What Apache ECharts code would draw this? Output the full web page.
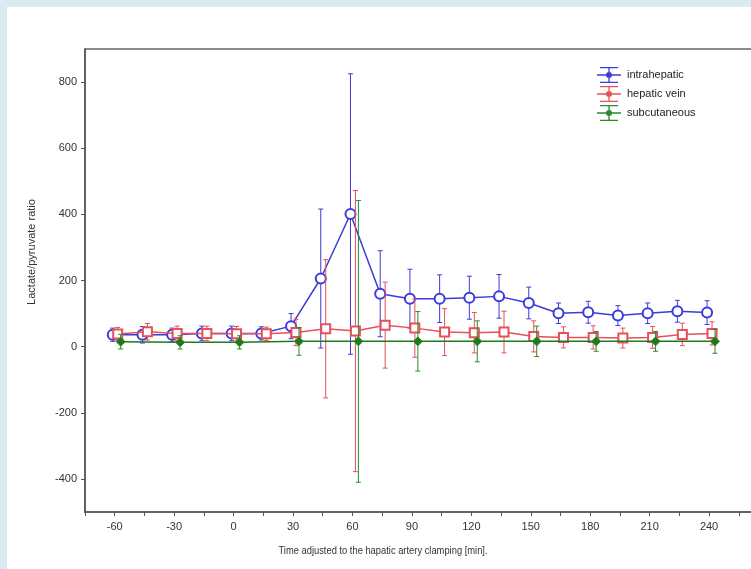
<!DOCTYPE html>
<html><head><meta charset="utf-8">
<script src="https://cdn.jsdelivr.net/npm/echarts@6/dist/echarts.min.js"></script>
<style>
html,body{margin:0;padding:0;background:#d7ebf1;width:751px;height:569px;overflow:hidden}
#c{position:absolute;left:7px;top:7px;width:744px;height:562px;background:#fff}
</style></head><body><div id="c"></div>
<script>
// time points (min)
const times = [-60,-45,-30,-15,0,15,30,45,60,75,90,105,120,135,150,165,180,195,210,225,240];
const subTimes = [-60,-30,0,30,60,90,120,150,180,210,240];
// intrahepatic mean and SD
const intrahepatic = [36,36,36,40,40,40,62,206,401,160,145,145,148,152,132,101,104,94,101,107,103];
const intrahepaticSD = [20,25,20,22,22,20,38,210,424,130,89,72,65,66,48,31,33,30,31,33,36];
// hepatic vein
const hepaticVein = [38,45,40,40,39,39,43,54,47,65,56,44,42,44,31,28,28,26,28,37,40];
const hepaticVeinSD = [20,25,22,22,22,20,40,209,425,130,88,71,61,63,47,32,35,30,33,34,35];
// subcutaneous
const subcutaneous = [15,13,13,16,16,16,16,16,16,16,16];
const subcutaneousSD = [22,20,20,42,426,90,62,46,30,30,36];
// small horizontal dodge of each group (min)
const intraShift = -1, veinShift = 1.5, subShift = 3;

const xLabels = [-60,-30,0,30,60,90,120,150,180,210,240,270];
const yTicks = [-400,-200,0,200,400,600,800];

const BLUE = '#3b3bdc', RED = '#e5505a', GREEN = '#2b8a2b';

function pts(t, v, s){ return v.map((y,i)=>[t[i]+s, y]); }
function errs(t, v, sd, s){ return v.map((y,i)=>[t[i]+s, y-sd[i], y+sd[i]]); }

function errRender(color){
  return function(params, api){
    const x = api.value(0), lo = api.value(1), hi = api.value(2);
    const a = api.coord([x, lo]), b = api.coord([x, hi]);
    const cap = 2.5;
    const style = {stroke: color, lineWidth: 1};
    return {type:'group', children:[
      {type:'line', shape:{x1:a[0], y1:a[1], x2:b[0], y2:b[1]}, style},
      {type:'line', shape:{x1:a[0]-cap, y1:a[1], x2:a[0]+cap, y2:a[1]}, style},
      {type:'line', shape:{x1:b[0]-cap, y1:b[1], x2:b[0]+cap, y2:b[1]}, style}
    ]};
  };
}

const icon = 'path://M3,0H21V1.3H3Z M3,14.7H21V16H3Z M11.35,0H12.65V16H11.35Z M0,7.35H24V8.65H0Z M12,5A3,3 0 1,1 12,11A3,3 0 1,1 12,5Z';

const chart = echarts.init(document.getElementById('c'), null, {renderer:'canvas'});
chart.setOption({
  animation:false,
  backgroundColor:'#fff',
  textStyle:{fontFamily:'Liberation Sans, Arial, sans-serif'},
  grid:{left:78, top:42, width:683.5, bottom:57, show:true, borderColor:'#666', borderWidth:1.5,
        containLabel:false, outerBoundsMode:'none'},
  legend:{
    orient:'vertical', left:590, top:60, padding:0, itemGap:3,
    itemWidth:26, itemHeight:16, icon: icon,
    textStyle:{fontSize:11, color:'#222', fontFamily:'Liberation Sans, Arial, sans-serif'},
    data:[
      {name:'intrahepatic', itemStyle:{color:BLUE, borderWidth:0}},
      {name:'hepatic vein', itemStyle:{color:RED, borderWidth:0}},
      {name:'subcutaneous', itemStyle:{color:GREEN, borderWidth:0}}
    ]
  },
  xAxis:{
    type:'value', min:-75, max:270, interval:15,
    axisLine:{show:true, onZero:false, lineStyle:{color:'#555', width:1.5}},
    axisTick:{show:true, inside:false, length:4, lineStyle:{color:'#555'}},
    axisLabel:{customValues:xLabels, fontSize:11, color:'#333', margin:9},
    splitLine:{show:false}
  },
  yAxis:{
    type:'value', min:-500, max:900,
    axisLine:{show:true, onZero:false, lineStyle:{color:'#555', width:1.5}},
    axisTick:{show:true, inside:false, length:4, customValues:yTicks, lineStyle:{color:'#555'}},
    axisLabel:{customValues:yTicks, fontSize:11, color:'#333', margin:8},
    splitLine:{show:false}
  },
  graphic:[
    {type:'text', x:376, y:544, scaleX:0.85,
     style:{text:'Time adjusted to the hapatic artery clamping [min].', fontSize:11, fill:'#333',
            fontFamily:'Liberation Sans, Arial, sans-serif', align:'center', verticalAlign:'middle'}},
    {type:'text', x:25, y:245, rotation:Math.PI/2,
     style:{text:'Lactate/pyruvate ratio', fontSize:11, fill:'#333',
            fontFamily:'Liberation Sans, Arial, sans-serif', align:'center', verticalAlign:'middle'}}
  ],
  series:[
    {type:'custom', name:'intrahepatic SD', renderItem:errRender(BLUE), data:errs(times,intrahepatic,intrahepaticSD,intraShift), z:2, encode:{x:0,y:[1,2]}},
    {type:'line', name:'intrahepatic', data:pts(times,intrahepatic,intraShift), color:BLUE,
     symbol:'emptyCircle', symbolSize:10, lineStyle:{width:1.5}, itemStyle:{borderWidth:1.5}, z:3},
    {type:'custom', name:'hepatic vein SD', renderItem:errRender(RED), data:errs(times,hepaticVein,hepaticVeinSD,veinShift), z:4, encode:{x:0,y:[1,2]}},
    {type:'line', name:'hepatic vein', data:pts(times,hepaticVein,veinShift), color:RED,
     symbol:'emptyRect', symbolSize:9, lineStyle:{width:1.5}, itemStyle:{borderWidth:1.5}, z:5},
    {type:'custom', name:'subcutaneous SD', renderItem:errRender(GREEN), data:errs(subTimes,subcutaneous,subcutaneousSD,subShift), z:6, encode:{x:0,y:[1,2]}},
    {type:'line', name:'subcutaneous', data:pts(subTimes,subcutaneous,subShift), color:GREEN,
     symbol:'diamond', symbolSize:9, lineStyle:{width:1.5}, itemStyle:{color:'#1f7a1f', borderColor:GREEN, borderWidth:1}, z:7}
  ]
});
</script></body></html>
